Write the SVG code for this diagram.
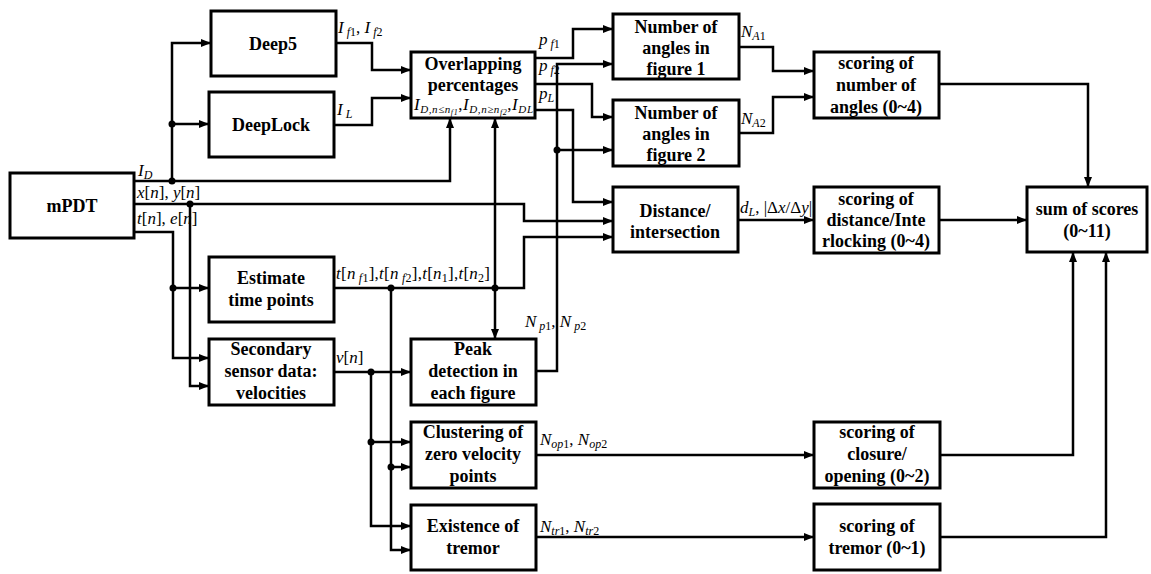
<svg xmlns="http://www.w3.org/2000/svg" width="1151" height="574" viewBox="0 0 1151 574">
<style>
.box{fill:#fff;stroke:#000;stroke-width:3}
.w{fill:none;stroke:#000;stroke-width:2.5;marker-end:url(#a)}
.t{font-family:"Liberation Serif",serif;font-weight:bold;font-size:18px;text-anchor:middle;fill:#000}
.l{font-family:"Liberation Serif",serif;font-style:italic;font-size:17px;fill:#000}
.s{font-size:12px}
.r{font-style:normal}
</style>
<defs>
<marker id="a" viewBox="0 0 10 8" refX="10" refY="4" markerWidth="10" markerHeight="8" markerUnits="userSpaceOnUse" orient="auto"><path d="M0,0 L10,4 L0,8 z" fill="#000"/></marker>
</defs>
<rect width="1151" height="574" fill="#fff"/>
<g id="connectors">
<path class="w" d="M134,181 H450 V118"/>
<path class="w" d="M172,181 V43 H211"/>
<path class="w" d="M172,124 H209"/>
<path class="w" d="M134,204 H524 V221 H613"/>
<path class="w" d="M190,204 V386 H209"/>
<path class="w" d="M134,232 H173 V358 H209"/>
<path class="w" d="M173,288 H209"/>
<path class="w" d="M336,43 H372 V70 H411"/>
<path class="w" d="M334,125 H372 V98 H411"/>
<path class="w" d="M535,58 H573 V29 H613"/>
<path class="w" d="M535,84 H592 V117 H613"/>
<path class="w" d="M535,110 H573 V202 H613"/>
<path class="w" d="M536,371 H557 V64 H613"/>
<path class="w" d="M557,150 H613"/>
<path class="w" d="M334,288 H524 V237 H613"/>
<path class="w" d="M495,288 V118"/>
<path class="w" d="M495,288 V339"/>
<path class="w" d="M391,288 V550 H411"/>
<path class="w" d="M391,467 H411"/>
<path class="w" d="M334,372 H411"/>
<path class="w" d="M371,372 V526 H411"/>
<path class="w" d="M371,442 H411"/>
<path class="w" d="M536,455 H814"/>
<path class="w" d="M536,537 H814"/>
<path class="w" d="M739,47 H773 V71 H814"/>
<path class="w" d="M739,133 H773 V97 H814"/>
<path class="w" d="M738,220 H814"/>
<path class="w" d="M939,220 H1027"/>
<path class="w" d="M939,84 H1088 V187"/>
<path class="w" d="M940,455 H1073 V252"/>
<path class="w" d="M940,537 H1106 V252"/>
<g fill="#000">
<circle cx="172" cy="181" r="3.5"/>
<circle cx="172" cy="124" r="3.5"/>
<circle cx="190" cy="204" r="3.5"/>
<circle cx="173" cy="288" r="3.5"/>
<circle cx="391" cy="288" r="3.5"/>
<circle cx="495" cy="288" r="3.5"/>
<circle cx="557" cy="150" r="3.5"/>
<circle cx="371" cy="372" r="3.5"/>
<circle cx="371" cy="442" r="3.5"/>
<circle cx="391" cy="467" r="3.5"/>
</g>
</g>
<g id="labels">
<text class="l" x="138" y="176">I<tspan class="s" dy="3">D</tspan></text>
<text class="l" x="137" y="198">x<tspan class="r">[</tspan>n<tspan class="r">], </tspan>y<tspan class="r">[</tspan>n<tspan class="r">]</tspan></text>
<text class="l" x="137" y="224">t<tspan class="r">[</tspan>n<tspan class="r">], </tspan>e<tspan class="r">[</tspan>n<tspan class="r">]</tspan></text>
<text class="l" x="338" y="33">I<tspan class="s" dy="3"> f</tspan><tspan class="s r">1</tspan><tspan class="r" dy="-3">, </tspan>I<tspan class="s" dy="3"> f</tspan><tspan class="s r">2</tspan></text>
<text class="l" x="337" y="115">I<tspan class="s" dy="3"> L</tspan></text>
<text class="l" x="539" y="45">p<tspan class="s" dy="3"> f</tspan><tspan class="s r">1</tspan></text>
<text class="l" x="539" y="71">p<tspan class="s" dy="3"> f</tspan><tspan class="s r">2</tspan></text>
<text class="l" x="539" y="99">p<tspan class="s" dy="3">L</tspan></text>
<text class="l" x="741" y="37">N<tspan class="s" dy="3">A</tspan><tspan class="s r">1</tspan></text>
<text class="l" x="741" y="124">N<tspan class="s" dy="3">A</tspan><tspan class="s r">2</tspan></text>
<text class="l" x="336" y="279" textLength="154" lengthAdjust="spacing">t<tspan class="r">[</tspan>n<tspan class="s" dy="3"> f</tspan><tspan class="s r">1</tspan><tspan class="r" dy="-3">],</tspan>t<tspan class="r">[</tspan>n<tspan class="s" dy="3"> f</tspan><tspan class="s r">2</tspan><tspan class="r" dy="-3">],</tspan>t<tspan class="r">[</tspan>n<tspan class="s r" dy="3">1</tspan><tspan class="r" dy="-3">],</tspan>t<tspan class="r">[</tspan>n<tspan class="s r" dy="3">2</tspan><tspan class="r" dy="-3">]</tspan></text>
<text class="l" x="336" y="363">v<tspan class="r">[</tspan>n<tspan class="r">]</tspan></text>
<text class="l" x="525" y="327">N<tspan class="s" dy="3"> p</tspan><tspan class="s r">1</tspan><tspan class="r" dy="-3">, </tspan>N<tspan class="s" dy="3"> p</tspan><tspan class="s r">2</tspan></text>
<text class="l" x="540" y="445">N<tspan class="s" dy="3">op</tspan><tspan class="s r">1</tspan><tspan class="r" dy="-3">, </tspan>N<tspan class="s" dy="3">op</tspan><tspan class="s r">2</tspan></text>
<text class="l" x="540" y="532">N<tspan class="s" dy="3">tr</tspan><tspan class="s r">1</tspan><tspan class="r" dy="-3">, </tspan>N<tspan class="s" dy="3">tr</tspan><tspan class="s r">2</tspan></text>
<text class="l" x="740" y="213">d<tspan class="s" dy="3">L</tspan><tspan class="r" dy="-3">, |Δ</tspan>x<tspan class="r">/Δ</tspan>y<tspan class="r">|,</tspan></text>
</g>
<g id="mPDT"><rect class="box" x="10" y="173" width="124" height="65"/><text class="t" x="72" y="212">mPDT</text></g>
<g id="deep5"><rect class="box" x="211" y="11" width="125" height="65"/><text class="t" x="273" y="50">Deep5</text></g>
<g id="deeplock"><rect class="box" x="209" y="92" width="125" height="65"/><text class="t" x="271" y="131">DeepLock</text></g>
<g id="overlap"><rect class="box" x="411" y="52" width="124" height="66"/><text class="t" x="473" y="70">Overlapping</text><text class="t" x="473" y="91">percentages</text>
<text class="l" x="414" y="110" font-size="14" textLength="119" lengthAdjust="spacing">I<tspan font-size="11" dy="3">D,n≤n</tspan><tspan font-size="8" dy="2">f1</tspan><tspan class="r" dy="-5">,</tspan>I<tspan font-size="11" dy="3">D,n≥n</tspan><tspan font-size="8" dy="2">f2</tspan><tspan class="r" dy="-5">,</tspan>I<tspan font-size="11" dy="3">DL</tspan></text></g>
<g id="angles1"><rect class="box" x="613" y="14" width="126" height="65"/><text class="t" x="676" y="33">Number of</text><text class="t" x="676" y="54">angles in</text><text class="t" x="676" y="75">figure 1</text></g>
<g id="angles2"><rect class="box" x="613" y="100" width="126" height="66"/><text class="t" x="676" y="119">Number of</text><text class="t" x="676" y="140">angles in</text><text class="t" x="676" y="161">figure 2</text></g>
<g id="scoreAngles"><rect class="box" x="814" y="52" width="125" height="66"/><text class="t" x="876" y="69">scoring of</text><text class="t" x="876" y="91">number of</text><text class="t" x="876" y="113">angles (0~4)</text></g>
<g id="distance"><rect class="box" x="613" y="187" width="125" height="65"/><text class="t" x="675" y="217">Distance/</text><text class="t" x="675" y="238">intersection</text></g>
<g id="scoreDist"><rect class="box" x="814" y="187" width="125" height="66"/><text class="t" x="876" y="205">scoring of</text><text class="t" x="876" y="226">distance/Inte</text><text class="t" x="876" y="247">rlocking (0~4)</text></g>
<g id="sum"><rect class="box" x="1027" y="187" width="120" height="65"/><text class="t" x="1087" y="215">sum of scores</text><text class="t" x="1087" y="237">(0~11)</text></g>
<g id="estimate"><rect class="box" x="209" y="257" width="125" height="65"/><text class="t" x="271" y="284">Estimate</text><text class="t" x="271" y="306">time points</text></g>
<g id="secondary"><rect class="box" x="209" y="339" width="125" height="66"/><text class="t" x="271" y="355">Secondary</text><text class="t" x="271" y="377">sensor data:</text><text class="t" x="271" y="399">velocities</text></g>
<g id="peak"><rect class="box" x="411" y="339" width="125" height="66"/><text class="t" x="473" y="355">Peak</text><text class="t" x="473" y="377">detection in</text><text class="t" x="473" y="399">each figure</text></g>
<g id="clustering"><rect class="box" x="411" y="422" width="125" height="66"/><text class="t" x="473" y="438">Clustering of</text><text class="t" x="473" y="460">zero velocity</text><text class="t" x="473" y="482">points</text></g>
<g id="tremor"><rect class="box" x="411" y="505" width="125" height="65"/><text class="t" x="473" y="532">Existence of</text><text class="t" x="473" y="554">tremor</text></g>
<g id="scoreClosure"><rect class="box" x="814" y="422" width="126" height="66"/><text class="t" x="877" y="438">scoring of</text><text class="t" x="877" y="460">closure/</text><text class="t" x="877" y="482">opening (0~2)</text></g>
<g id="scoreTremor"><rect class="box" x="814" y="504" width="126" height="66"/><text class="t" x="877" y="532">scoring of</text><text class="t" x="877" y="554">tremor (0~1)</text></g>
</svg>
